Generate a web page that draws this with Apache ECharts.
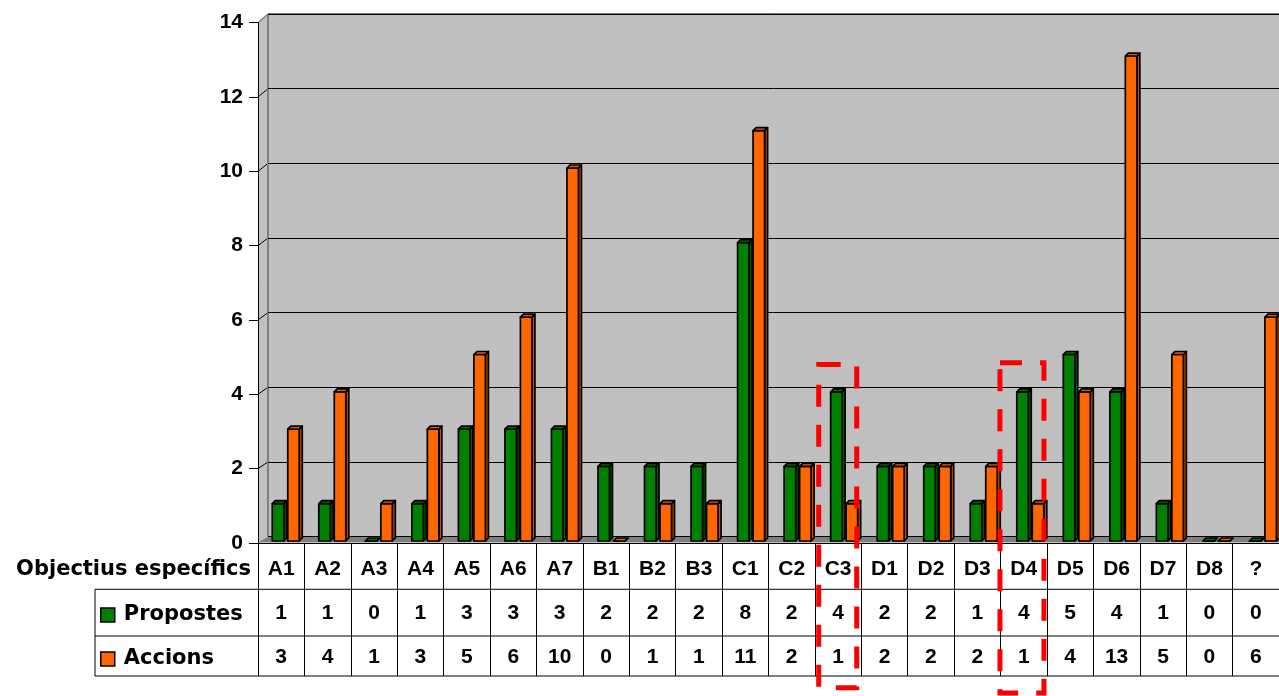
<!DOCTYPE html>
<html>
<head>
<meta charset="utf-8">
<script src="https://cdn.jsdelivr.net/npm/echarts@6/dist/echarts.min.js"></script>
<style>html,body{margin:0;padding:0;background:#fff;}#c{width:1279px;height:696px;}</style>
</head>
<body>
<div id="c"></div>
<script>
const categories = ['A1','A2','A3','A4','A5','A6','A7','B1','B2','B3','C1','C2','C3','D1','D2','D3','D4','D5','D6','D7','D8','?'];
const propostes = [1,1,0,1,3,3,3,2,2,2,8,2,4,2,2,1,4,5,4,1,0,0];
const accions   = [3,4,1,3,5,6,10,0,1,1,11,2,1,2,2,2,1,4,13,5,0,6];
const seriesNames = ['Propostes','Accions'];
const yTicks = [0,2,4,6,8,10,12,14];
const axisTitle = 'Objectius específics';
const highlighted = ['C3','D4'];

const FONT = "Liberation Sans, Arial, sans-serif";
const WIDEFONT = "DejaVu Sans, sans-serif";
const chart = echarts.init(document.getElementById('c'), null, {renderer:'canvas'});

function barRenderer(offset, front, side, topc){
  return function(params, api){
    const i = api.value(0), v = api.value(1);
    const b = api.coord([i, 0]);
    const t = api.coord([i, v]);
    const W = 11.5, D = 3;
    const L = b[0] + offset;
    const yb = b[1], yt = t[1];
    const st = {stroke:'#000', lineWidth:1.7, lineJoin:'round'};
    return {type:'group', children:[
      {type:'polygon', shape:{points:[[L+W,yb],[L+W,yt],[L+W+D,yt-D],[L+W+D,yb-D]]}, style:Object.assign({fill:side}, st)},
      {type:'rect', shape:{x:L, y:yt, width:W, height:Math.max(yb-yt,0)}, style:Object.assign({fill:front}, st)},
      {type:'polygon', shape:{points:[[L,yt],[L+D,yt-D],[L+W+D,yt-D],[L+W,yt]]}, style:Object.assign({fill:topc}, st)}
    ]};
  };
}

const labelStyle = {fontFamily:FONT, fontWeight:'bold', fontSize:21, color:'#000', lineHeight:44, align:'center'};

chart.setOption({
  animation:false,
  backgroundColor:'#ffffff',
  grid:[
    {left:258, right:0, top:22.7, bottom:153, show:false, outerBoundsMode:'none', containLabel:false},
    {left:268, right:0, top:14, bottom:159.5, show:false, outerBoundsMode:'none', containLabel:false},
    {left:264, width:1023.7, top:18.8, bottom:155, show:false, outerBoundsMode:'none', containLabel:false}
  ],
  legend:{
    orient:'vertical', left:100, top:603, padding:0, itemGap:20,
    itemWidth:14, itemHeight:14, icon:'rect',
    data:seriesNames,
    itemStyle:{borderColor:'#000', borderWidth:1.5},
    textStyle:{fontFamily:WIDEFONT, fontWeight:'bold', fontSize:21, color:'#000', lineHeight:24, padding:[0,0,0,4]}
  },
  xAxis:[
    {type:'category', gridIndex:0, data:categories, boundaryGap:true,
     axisLine:{show:true, lineStyle:{color:'#000', width:1}},
     axisTick:{show:true, interval:0, length:133, lineStyle:{color:'#000', width:1}},
     axisLabel:{interval:0, margin:4,
       formatter:function(val, idx){ return '{h|'+val+'}\n{v|'+propostes[idx]+'}\n{v|'+accions[idx]+'}'; },
       rich:{h:labelStyle, v:labelStyle}},
     splitLine:{show:false}},
    {type:'category', gridIndex:1, data:categories, show:false},
    {type:'category', gridIndex:2, data:categories, show:false, boundaryGap:true}
  ],
  yAxis:[
    {type:'value', gridIndex:0, min:0, max:14, interval:2,
     axisLine:{show:true, lineStyle:{color:'#000', width:1}},
     axisTick:{show:true, length:9, lineStyle:{color:'#000', width:1}},
     axisLabel:{margin:15, fontFamily:FONT, fontWeight:'bold', fontSize:21, color:'#000',
       formatter:function(v){ return yTicks.indexOf(v)>=0 ? String(v) : ''; }},
     splitLine:{show:false}},
    {type:'value', gridIndex:1, min:0, max:14, interval:2,
     axisLine:{show:false}, axisTick:{show:false}, axisLabel:{show:false},
     splitLine:{show:true, lineStyle:{color:'#000', width:1}}},
    {type:'value', gridIndex:2, min:0, max:14, show:false, splitLine:{show:false}}
  ],
  series:[
    {name:seriesNames[0], type:'custom', xAxisIndex:2, yAxisIndex:2, color:'#008000',
     itemStyle:{color:'#008000'},
     renderItem:barRenderer(-15, '#008000', '#005a00', '#006e00'),
     encode:{x:0, y:1},
     data:propostes.map((v,i)=>[i,v])},
    {name:seriesNames[1], type:'custom', xAxisIndex:2, yAxisIndex:2, color:'#FF6600',
     itemStyle:{color:'#FF6600'},
     renderItem:barRenderer(0.5, '#FF6600', '#c84f00', '#e85d00'),
     encode:{x:0, y:1},
     data:accions.map((v,i)=>[i,v])}
  ]
});

// Frame (walls, floor) and table rules, positioned from the axes
const W = chart.getWidth();
const yF = v => chart.convertToPixel({yAxisIndex:0}, v);
const yB = v => chart.convertToPixel({yAxisIndex:1}, v);
const xFront = chart.convertToPixel({xAxisIndex:0}, categories[0]) - (chart.convertToPixel({xAxisIndex:0}, categories[1]) - chart.convertToPixel({xAxisIndex:0}, categories[0]))/2;
const xBack = xFront + 10;
const g = [];
// back wall
g.push({type:'rect', z:-5, silent:true, shape:{x:xBack, y:yB(14), width:W-xBack, height:yB(0)-yB(14)}, style:{fill:'#C0C0C0'}});
// left wall
g.push({type:'polygon', z:-5, silent:true, shape:{points:[[xFront,yF(14)],[xBack,yB(14)],[xBack,yB(0)],[xFront,yF(0)]]}, style:{fill:'#C0C0C0'}});
// floor
g.push({type:'polygon', z:-4, silent:true, shape:{points:[[xFront,yF(0)-0.5],[xBack,yB(0)],[W,yB(0)],[W,yF(0)-0.5]]}, style:{fill:'#808080'}});
// left-wall grid diagonals
yTicks.slice(1,-1).forEach(v=>{
  g.push({type:'line', z:-3, silent:true, shape:{x1:xFront, y1:yF(v), x2:xBack, y2:yB(v)}, style:{stroke:'#000', lineWidth:1}});
});
// wall edges
g.push({type:'line', z:-2, silent:true, shape:{x1:xBack, y1:yB(14), x2:xBack, y2:yB(0)}, style:{stroke:'#808080', lineWidth:2}});
g.push({type:'line', z:-2, silent:true, shape:{x1:xBack, y1:yB(14), x2:W, y2:yB(14)}, style:{stroke:'#808080', lineWidth:2}});
g.push({type:'line', z:-2, silent:true, shape:{x1:xFront, y1:yF(14), x2:xBack, y2:yB(14)}, style:{stroke:'#808080', lineWidth:1.5}});
// table horizontal rules
const y0 = yF(0);
[46.3, 93, 133].forEach(d=>{
  g.push({type:'line', z:1, silent:true, shape:{x1:95, y1:y0+d, x2:W, y2:y0+d}, style:{stroke:'#000', lineWidth:1}});
});
g.push({type:'line', z:1, silent:true, shape:{x1:95, y1:y0+46.3, x2:95, y2:y0+133}, style:{stroke:'#000', lineWidth:1}});
// table header caption
g.push({type:'text', z:1, silent:true, x:xFront-7, y:y0+27,
  style:{text:axisTitle, fontFamily:WIDEFONT, fontWeight:'bold', fontSize:21, fill:'#000', align:'right', verticalAlign:'middle'}});
// red dashed highlight boxes
const boxes = [
  {cat:highlighted[0], dl:-19.4, dr:18.6, top:4.8, bottom:y0+144.7},
  {cat:highlighted[1], dl:-23.8, dr:20.2, top:4.85, bottom:y0+150}
];
boxes.forEach(b=>{
  const cx = chart.convertToPixel({xAxisIndex:0}, b.cat);
  const yt = yF(b.top);
  g.push({type:'rect', z:100, silent:true,
    shape:{x:cx+b.dl, y:yt, width:b.dr-b.dl, height:b.bottom-yt},
    style:{fill:null, stroke:'#FF0000', lineWidth:5, lineDash:[22,18]}});
});
chart.setOption({graphic:g});
</script>
</body>
</html>
